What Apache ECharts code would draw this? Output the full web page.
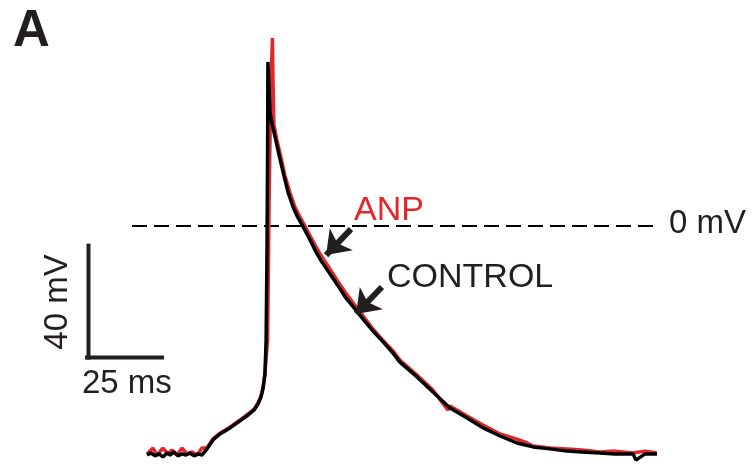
<!DOCTYPE html>
<html>
<head>
<meta charset="utf-8">
<script src="https://cdn.jsdelivr.net/npm/echarts@6/dist/echarts.min.js"></script>
<style>
  html, body { margin: 0; padding: 0; background: #fff; }
  #chart { width: 752px; height: 466px; }
</style>
</head>
<body>
<div id="chart"></div>
<script>
// time in ms, membrane potential in mV
const controlTime = [20, 21.3, 22.7, 24, 25.3, 26.7, 27.7, 29, 30.3, 31.7, 33, 34.3, 35.7, 37, 38.3,
  40, 42, 44.3, 47.7, 51, 53.7, 55.7, 57, 58, 58.7, 59.3, 59.7, 60, 60.2, 60.3,
  60.7, 61, 61.7, 62.7, 64, 65.5, 67, 68.7, 70, 71.7, 73.7, 76, 78.3, 81, 83.7, 86.3,
  89.3, 92.3, 95.3, 98.7, 102, 104.3, 110, 115.3, 121, 126.7, 132, 137.7, 143.3,
  148.7, 154.3, 160, 165, 171, 176, 182, 183, 186, 190];
const controlMv = [-81.8, -81.1, -82.1, -81.4, -82.5, -81.1, -81.8, -80.7, -82.1, -81.4, -81.8, -81.1, -82.1, -81.4, -81.8,
  -79.6, -76.4, -74.3, -72.1, -69.6, -67.5, -65.7, -63.6, -61.1, -57.9, -53.2, -40.7, -8.6, 27.1, 58.6,
  48.6, 40.5, 36.4, 31.8, 25.4, 18.6, 12.1, 6.8, 3.6, 0.4, -3.6, -8.6, -12.9, -17.1, -21.4, -25.7,
  -29.6, -33.6, -37.5, -41.4, -45.4, -48.6, -53.9, -59.3, -65, -68.6, -72.1, -75, -77.5,
  -78.9, -79.6, -80.4, -80.7, -81.1, -81.4, -81.4, -83.6, -81.4, -81.4];

const anpTime = [20, 22, 23.3, 25.3, 27, 28.3, 30, 31.7, 33.3, 35, 36.7, 38.3,
  40, 42, 44.3, 47.7, 51, 53.7, 55.7, 57, 58, 58.7, 59.3, 60.2, 60.7, 61.2, 61.8,
  62, 62.3, 63.3, 64.7, 66, 67.7, 69.3, 71, 73, 75.3, 77.7, 80.3, 83.3, 86, 89, 92,
  95, 98.3, 102, 104.3, 110, 115.3, 120.3, 121, 126.7, 132, 137.7, 143.3, 146.7,
  148.7, 154.3, 160, 165, 171, 176, 182, 186, 190];
const anpMv = [-81.4, -79.3, -81.8, -79.3, -81.4, -80, -81.8, -79.3, -81.4, -80.7, -81.8, -79.3,
  -79.3, -76, -74, -71.8, -69.3, -67.1, -65.4, -63.2, -60.7, -57.5, -52.8, -40.7, 9.3, 45, 67.1,
  52.1, 36.1, 30.7, 24.3, 17.9, 11.8, 6.8, 3.2, -0.7, -5.4, -10, -14.3, -19.3, -23.6, -27.9, -32.1,
  -36.4, -40.4, -44.6, -47.9, -53.2, -58.6, -65.7, -64.3, -67.9, -71.1, -74.3, -76.1, -77.5,
  -78.6, -79.3, -79.6, -80, -80.7, -80.4, -81.1, -80.4, -81.1];

// scale bars: 40 mV and 25 ms
const barMvTime = [0.5, 0.5];
const barMvValues = [-7, -47];
const barMsTime = [0, 25];
const barMsValues = [-47, -47];

// arrows pointing at the traces
const anpArrow = [[88, -1.1], [79.7, -10.4]];
const controlArrow = [[98.3, -21.8], [89.7, -31.4]];
const zeroLineSpan = [15, 188.7];

const ink = '#231f20';
const red = '#e3262b';
const font = '"Liberation Sans", Arial, sans-serif';

const zip = (xs, ys) => xs.map((x, i) => [x, ys[i]]);

const chart = echarts.init(document.getElementById('chart'), null, { renderer: 'canvas' });

const arrowLine = (pts) => [{ coord: pts[0], symbol: 'none' }, { coord: pts[1], symbol: 'arrow' }];

chart.setOption({
  animation: false,
  grid: { left: 87, top: 30, width: 570, height: 434 },
  xAxis: { type: 'value', min: 0, max: 190, show: false },
  yAxis: { type: 'value', min: -85, max: 70, show: false },
  series: [
    {
      type: 'line', data: zip(anpTime, anpMv), symbol: 'none',
      lineStyle: { color: red, width: 3.5 }, z: 2,
    },
    {
      type: 'line', data: zip(controlTime, controlMv), symbol: 'none',
      lineStyle: { color: '#000', width: 3.5 }, z: 3,
      markLine: {
        silent: true, animation: false,
        label: { show: false },
        symbolSize: [24, 22],
        lineStyle: { color: ink, width: 6, type: 'solid' },
        data: [arrowLine(anpArrow), arrowLine(controlArrow)],
      },
    },
    {
      type: 'line', data: zip(zeroLineSpan, [0, 0]), symbol: 'none',
      lineStyle: { color: '#000', width: 2, type: [15, 7] }, z: 1,
    },
    {
      type: 'line', data: zip(barMvTime, barMvValues), symbol: 'none',
      lineStyle: { color: ink, width: 4, cap: 'square' },
    },
    {
      type: 'line', data: zip(barMsTime, barMsValues), symbol: 'none',
      lineStyle: { color: ink, width: 4, cap: 'square' },
    },
  ],
  graphic: [
    { type: 'text', left: 13, top: 6, style: { text: 'A', font: 'bold 51px ' + font, fill: ink } },
    { type: 'text', x: 354, y: 211, style: { text: 'ANP', font: '34px ' + font, fill: red, textVerticalAlign: 'middle' } },
    { type: 'text', x: 387, y: 278, style: { text: 'CONTROL', font: '34px ' + font, fill: ink, textVerticalAlign: 'middle' } },
    { type: 'text', x: 669, y: 224, style: { text: '0 mV', font: '33px ' + font, fill: ink, textVerticalAlign: 'middle' } },
    { type: 'text', x: 82, y: 384, style: { text: '25 ms', font: '33px ' + font, fill: ink, textVerticalAlign: 'middle' } },
    { type: 'text', x: 58, y: 302, rotation: Math.PI / 2, style: { text: '40 mV', font: '33px ' + font, fill: ink, textAlign: 'center', textVerticalAlign: 'middle' } },
  ],
});
</script>
</body>
</html>
